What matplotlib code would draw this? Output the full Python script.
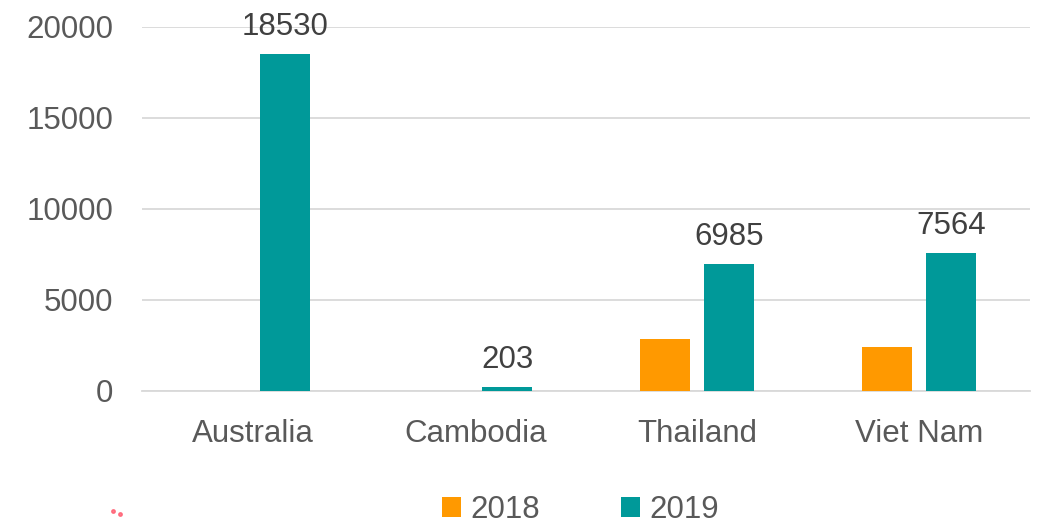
import matplotlib.pyplot as plt
import numpy as np

plt.rcParams['font.family'] = ['Liberation Sans', 'DejaVu Sans']

# Data
countries = ['Australia', 'Cambodia', 'Thailand', 'Viet Nam']
years = ['2018', '2019']
values_2018 = [0, 0, 2860, 2420]
values_2019 = [18530, 203, 6985, 7564]
colors = ['#FF9900', '#009999']

fig = plt.figure(figsize=(10.46, 5.29), dpi=100)
ax = fig.add_axes([0.136, 0.261, 0.849, 0.688])

x = np.arange(len(countries))
w = 0.225
off = 0.144
ax.bar(x - off, values_2018, w, color=colors[0], label=years[0], zorder=3)
bars = ax.bar(x + off, values_2019, w, color=colors[1], label=years[1], zorder=3)

# labels on 2019 bars
for bar, v in zip(bars, values_2019):
    ax.text(bar.get_x() + bar.get_width() / 2, v + 650, f'{v}',
            ha='center', va='bottom', fontsize=22.5, color='#404040')

ax.set_ylim(0, 20000)
ax.set_xlim(-0.5, 3.5)
ax.set_yticks(range(0, 20001, 5000))
ax.set_xticks(x)
ax.set_xticklabels(countries)
ax.tick_params(axis='both', length=0, labelsize=22.5, labelcolor='#595959')
ax.tick_params(axis='y', pad=21)
ax.tick_params(axis='x', pad=20)
ax.grid(axis='y', color='#d9d9d9', linewidth=1.3, zorder=0)
for s in ['top', 'right', 'left']:
    ax.spines[s].set_visible(False)
ax.spines['bottom'].set_color('#d9d9d9')
ax.spines['bottom'].set_linewidth(1.3)

leg = fig.legend(loc='lower center', bbox_to_anchor=(0.555, -0.045), ncol=2,
                 frameon=False, fontsize=22.5, handlelength=0.6, handleheight=0.6,
                 handletextpad=0.3, columnspacing=2.6, labelcolor='#595959')

# small red speck at lower left
fig.lines.extend([plt.Line2D([0.108, 0.115], [0.034, 0.028], transform=fig.transFigure,
                             linestyle='none', marker='o', markersize=2.5,
                             color='#ff5a6e', alpha=0.8)])

fig.savefig('out.png', dpi=100)
